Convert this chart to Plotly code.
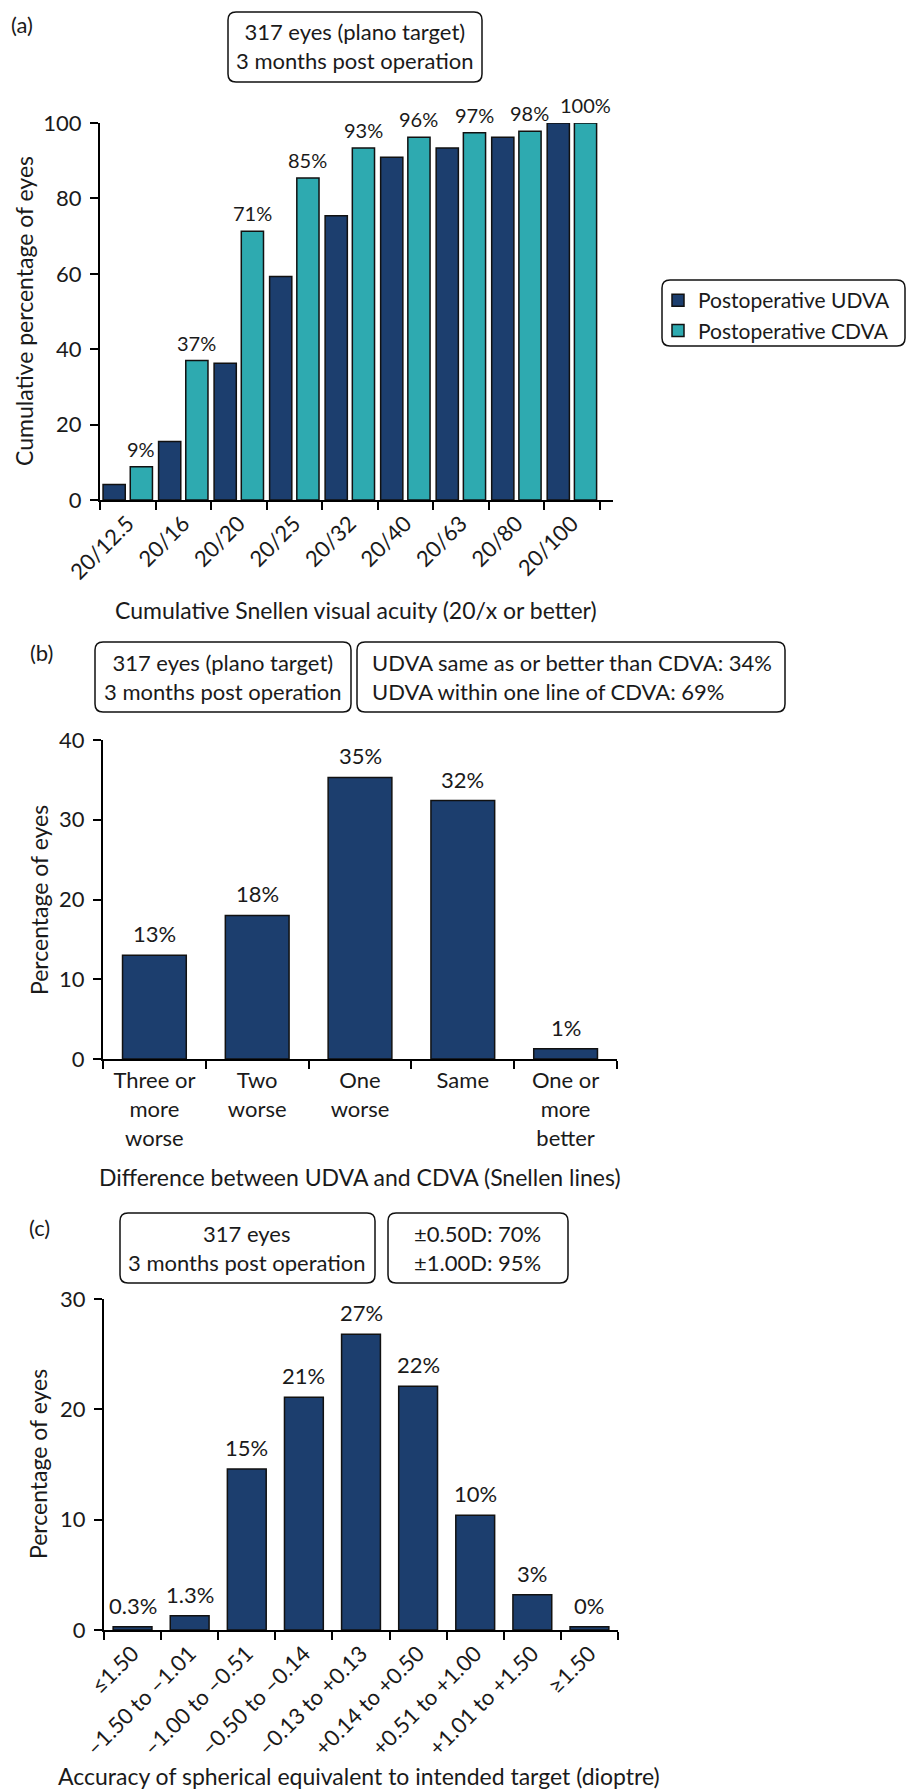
import plotly.graph_objects as go

W, H = 907, 1791

# ---- (a) cumulative Snellen acuity ----
snellen_cats = ["20/12.5", "20/16", "20/20", "20/25", "20/32", "20/40", "20/63", "20/80", "20/100"]
udva_cum = [4.1, 15.5, 36.3, 59.3, 75.4, 90.9, 93.4, 96.2, 100.0]
cdva_cum = [8.8, 37.0, 71.3, 85.4, 93.4, 96.2, 97.4, 97.8, 100.0]

# ---- (b) difference between UDVA and CDVA ----
diff_cats = ["Three or<br>more<br>worse", "Two<br>worse", "One<br>worse", "Same", "One or<br>more<br>better"]
diff_pct = [13.0, 18.0, 35.3, 32.4, 1.3]

# ---- (c) accuracy of spherical equivalent ----
se_cats = ["≤1.50", "–1.50 to –1.01", "–1.00 to –0.51", "–0.50 to –0.14", "–0.13 to +0.13",
           "+0.14 to +0.50", "+0.51 to +1.00", "+1.01 to +1.50", "≥1.50"]
se_pct = [0.3, 1.3, 14.6, 21.1, 26.8, 22.1, 10.4, 3.2, 0.3]
se_decimals = [1, 1, 0, 0, 0, 0, 0, 0, 0]

NAVY = "#1c3e6e"
TEAL = "#2eaab0"
INK = "#1a1a1a"
FONT = "Lato"
OUTLINE = dict(color="#111111", width=1.5)

# bar geometry (category units)
PAIR_W, UDVA_OFF, CDVA_OFF = 0.4, -0.445, 0.045


def fx(px):
    return px / W


def fy(py):
    return 1 - py / H


fig = go.Figure()

fig.add_trace(go.Bar(
    x=snellen_cats, y=udva_cum, name="Postoperative UDVA",
    marker=dict(color=NAVY, line=OUTLINE), width=PAIR_W, offset=UDVA_OFF,
    xaxis="x", yaxis="y", showlegend=True,
))
fig.add_trace(go.Bar(
    x=snellen_cats, y=cdva_cum, name="Postoperative CDVA",
    marker=dict(color=TEAL, line=OUTLINE), width=PAIR_W, offset=CDVA_OFF,
    xaxis="x", yaxis="y", showlegend=True,
))
fig.add_trace(go.Bar(
    x=diff_cats, y=diff_pct, marker=dict(color=NAVY, line=OUTLINE), width=0.62,
    xaxis="x2", yaxis="y2", showlegend=False,
))
fig.add_trace(go.Bar(
    x=se_cats, y=se_pct, marker=dict(color=NAVY, line=OUTLINE), width=0.68,
    xaxis="x3", yaxis="y3", showlegend=False,
))

axis_common = dict(
    showline=True, linecolor="black", linewidth=2, mirror=False,
    ticks="outside", ticklen=8, tickwidth=2, tickcolor="black",
    showgrid=False, zeroline=False, fixedrange=True, automargin=False,
    tickfont=dict(family=FONT, size=22, color=INK),
)

fig.update_layout(
    width=W, height=H,
    margin=dict(l=0, r=0, t=0, b=0, pad=0, autoexpand=False),
    paper_bgcolor="white", plot_bgcolor="white",
    font=dict(family=FONT, size=20, color=INK),
    barmode="group",
    xaxis=dict(domain=[fx(100), fx(613)], anchor="y", type="category",
               tickson="boundaries", tickangle=-45, **axis_common),
    yaxis=dict(domain=[fy(500), fy(123)], anchor="x", range=[0, 100], dtick=20,
               ticklabelstandoff=4, **axis_common),
    xaxis2=dict(domain=[fx(103), fx(617)], anchor="y2", type="category",
                tickson="boundaries", tickangle=0, ticklabelstandoff=1, **axis_common),
    yaxis2=dict(domain=[fy(1059), fy(740)], anchor="x2", range=[0, 40], dtick=10,
                ticklabelstandoff=4, **axis_common),
    xaxis3=dict(domain=[fx(104), fx(618)], anchor="y3", type="category",
                tickson="boundaries", tickangle=-45, **axis_common),
    yaxis3=dict(domain=[fy(1630), fy(1299)], anchor="x3", range=[0, 30], dtick=10,
                ticklabelstandoff=4, **axis_common),
    legend=dict(x=fx(658), y=fy(280), xanchor="left", yanchor="top",
                bgcolor="rgba(0,0,0,0)", borderwidth=0, itemwidth=30,
                font=dict(family=FONT, size=21, color=INK), tracegroupgap=0),
)


def rounded_box(x0, y0, x1, y1, r=8):
    rx, ry = r / W, r / H
    X0, X1 = fx(x0), fx(x1)
    Yt, Yb = fy(y0), fy(y1)
    path = (
        f"M {X0 + rx},{Yt} L {X1 - rx},{Yt} Q {X1},{Yt} {X1},{Yt - ry} "
        f"L {X1},{Yb + ry} Q {X1},{Yb} {X1 - rx},{Yb} "
        f"L {X0 + rx},{Yb} Q {X0},{Yb} {X0},{Yb + ry} "
        f"L {X0},{Yt - ry} Q {X0},{Yt} {X0 + rx},{Yt} Z"
    )
    return dict(type="path", path=path, xref="paper", yref="paper",
                line=dict(color="#111111", width=1.5), fillcolor="rgba(0,0,0,0)")


shapes = [
    rounded_box(228, 12, 482, 82),     # (a) header
    rounded_box(662, 280, 905, 346),   # (a) legend frame
    rounded_box(95, 642, 351, 712),    # (b) header left
    rounded_box(357, 642, 785, 712),   # (b) header right
    rounded_box(120, 1213, 375, 1283), # (c) header left
    rounded_box(388, 1213, 568, 1283), # (c) header right
]
fig.update_layout(shapes=shapes)


def note(text, x, y, xanchor="center", align="center", angle=0, size=20):
    return dict(text=text, x=fx(x), y=fy(y), xref="paper", yref="paper",
                xanchor=xanchor, yanchor="middle", align=align, textangle=angle,
                showarrow=False, font=dict(family=FONT, size=size, color=INK))


def bar_label(text, x, y, xref, yref, size, shift):
    return dict(text=text, x=x, y=y, xref=xref, yref=yref, xanchor="center",
                yanchor="bottom", yshift=shift, showarrow=False,
                font=dict(family=FONT, size=size, color=INK))


annotations = [
    # panel tags
    note("(a)", 9, 24, xanchor="left", size=22),
    note("(b)", 28, 652, xanchor="left", size=22),
    note("(c)", 27, 1227, xanchor="left", size=22),
    # header boxes
    note("317 eyes (plano target)<br>3 months post operation", 355, 46, size=22),
    note("317 eyes (plano target)<br>3 months post operation", 223, 677, size=22),
    note("UDVA same as or better than CDVA: 34%<br>UDVA within one line of CDVA: 69%",
         370, 677, xanchor="left", align="left", size=22),
    note("317 eyes<br>3 months post operation", 247, 1248, size=22),
    note("±0.50D: 70%<br>±1.00D: 95%", 478, 1248, size=22),
    # axis titles
    note("Cumulative percentage of eyes", 24, 311, angle=-90, size=23),
    note("Cumulative Snellen visual acuity (20/x or better)", 356, 610, size=23),
    note("Percentage of eyes", 39, 900, angle=-90, size=23),
    note("Difference between UDVA and CDVA (Snellen lines)", 360, 1177, size=23),
    note("Percentage of eyes", 38, 1464, angle=-90, size=23),
    note("Accuracy of spherical equivalent to intended target (dioptre)", 359, 1776, size=23),
]

# value labels above bars
for i, v in enumerate(cdva_cum):
    annotations.append(bar_label(f"{v:.0f}%", i + CDVA_OFF + PAIR_W / 2, v, "x", "y", 20, 4))
for i, v in enumerate(diff_pct):
    annotations.append(bar_label(f"{v:.0f}%", i, v, "x2", "y2", 22, 6))
for i, (v, d) in enumerate(zip(se_pct, se_decimals)):
    annotations.append(bar_label(f"{v:.{d}f}%", i, v, "x3", "y3", 22, 6))

fig.update_layout(annotations=annotations)

fig.write_html("out.html")
